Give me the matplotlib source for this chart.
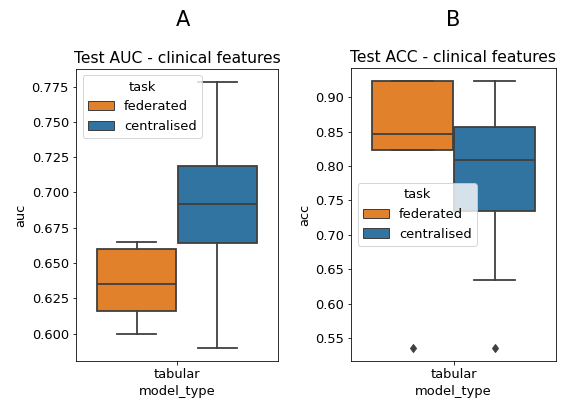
import matplotlib
matplotlib.use('Agg')
import matplotlib.pyplot as plt
from matplotlib.patches import Patch

# Box statistics (seaborn-style boxplots)
tasks = ['federated', 'centralised']
colors = ['#e1812c', '#3274a1']
line_color = '#3f3f3f'

# Panel A: test AUC
auc_whislo = [0.600, 0.590]
auc_q1 = [0.616, 0.664]
auc_med = [0.635, 0.692]
auc_q3 = [0.660, 0.719]
auc_whishi = [0.665, 0.778]
auc_fliers = [[], []]

# Panel B: test ACC
acc_whislo = [0.823, 0.635]
acc_q1 = [0.823, 0.735]
acc_med = [0.846, 0.808]
acc_q3 = [0.923, 0.856]
acc_whishi = [0.923, 0.923]
acc_fliers = [[0.536], [0.536]]

plt.rcParams['font.size'] = 13
plt.rcParams['axes.titlesize'] = 15.5
plt.rcParams['axes.labelsize'] = 13


def draw_panel(ax, whislo, q1, med, q3, whishi, fliers, title, ylabel, legend_loc):
    stats = []
    for i in range(len(tasks)):
        stats.append({'whislo': whislo[i], 'q1': q1[i], 'med': med[i], 'q3': q3[i],
                      'whishi': whishi[i], 'fliers': fliers[i], 'label': tasks[i]})
    bp = ax.bxp(stats, positions=[-0.2, 0.2], widths=0.392, patch_artist=True,
                boxprops=dict(edgecolor=line_color, linewidth=1.8),
                medianprops=dict(color=line_color, linewidth=1.8),
                whiskerprops=dict(color=line_color, linewidth=1.8),
                capprops=dict(color=line_color, linewidth=1.8),
                flierprops=dict(marker='d', markerfacecolor=line_color,
                                markeredgecolor=line_color, markersize=6))
    for patch, c in zip(bp['boxes'], colors):
        patch.set_facecolor(c)
    ax.set_xlim(-0.5, 0.5)
    ax.set_xticks([0])
    ax.set_xticklabels(['tabular'])
    ax.set_xlabel('model_type')
    ax.set_ylabel(ylabel)
    ax.set_title(title)
    handles = [Patch(facecolor=c, edgecolor=line_color, label=t) for c, t in zip(colors, tasks)]
    ax.legend(handles=handles, title='task', loc=legend_loc, fontsize=13, title_fontsize=13)


fig = plt.figure(figsize=(562 / 72, 407 / 72), dpi=72)
ax1 = fig.add_axes([76 / 562, 1 - 361 / 407, 202 / 562, 292 / 407])
ax2 = fig.add_axes([351 / 562, 1 - 361 / 407, 205 / 562, 293 / 407])

draw_panel(ax1, auc_whislo, auc_q1, auc_med, auc_q3, auc_whishi, auc_fliers,
           'Test AUC - clinical features', 'auc', 'upper left')
draw_panel(ax2, acc_whislo, acc_q1, acc_med, acc_q3, acc_whishi, acc_fliers,
           'Test ACC - clinical features', 'acc', 'center left')

ax1.set_yticks([0.600, 0.625, 0.650, 0.675, 0.700, 0.725, 0.750, 0.775])
ax2.set_yticks([0.55, 0.60, 0.65, 0.70, 0.75, 0.80, 0.85, 0.90])

fig.text(183 / 562, 1 - 20 / 407, 'A', fontsize=21, ha='center', va='center')
fig.text(453 / 562, 1 - 20 / 407, 'B', fontsize=21, ha='center', va='center')

fig.savefig('out.png', dpi=72)
